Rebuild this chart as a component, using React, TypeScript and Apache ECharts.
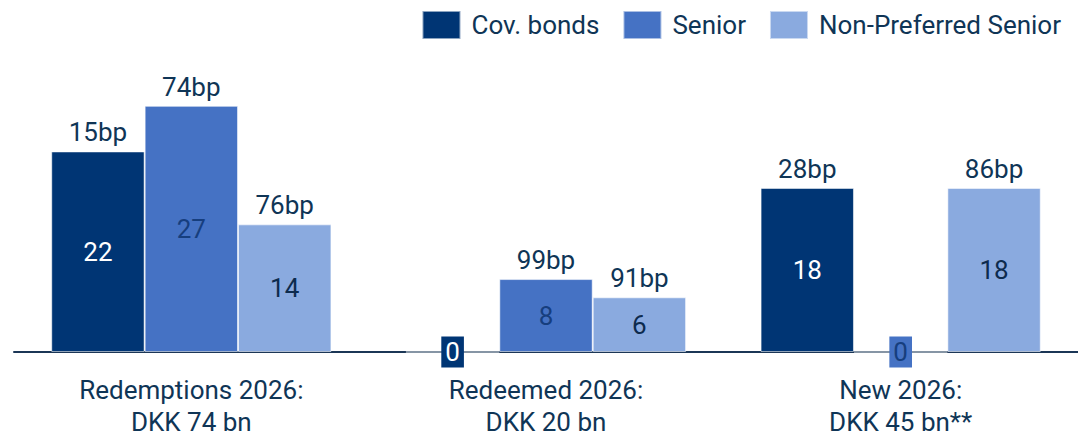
import React, { useEffect, useRef } from "react";
import * as echarts from "echarts";

const categories = ["Redemptions 2026:\nDKK 74 bn", "Redeemed 2026:\nDKK 20 bn", "New 2026:\nDKK 45 bn**"];
const seriesNames = ["Cov. bonds", "Senior", "Non-Preferred Senior"];
const covValues = [22, 0, 18];
const seniorValues = [27, 8, 0];
const npsValues = [14, 6, 18];
const covBp = ["15bp", null, "28bp"];
const seniorBp = ["74bp", "99bp", null];
const npsBp = ["76bp", "91bp", "86bp"];

const colors = ["#003574", "#4572c4", "#8aaadf"];
const insideColors = ["#ffffff", "#163e7e", "#0d2b4e"];
const zeroTextColors = ["#ffffff", "#163e7e", "#0d2b4e"];
const textColor = "#0f3556";
const FONT = "Roboto";

export default function App() {
  const ref = useRef<HTMLDivElement>(null);
  useEffect(() => {
    if (!ref.current) return;
    const chart = echarts.init(ref.current, undefined, { renderer: "svg" });
    const valueSets = [covValues, seniorValues, npsValues];
    const bpSets = [covBp, seniorBp, npsBp];
    const stacks = ["cov", "senior", "nps"];
    const series: any[] = [];
    valueSets.forEach((vals, i) => {
      series.push({
        name: seriesNames[i],
        type: "bar",
        stack: stacks[i],
        barGap: "0%",
        barCategoryGap: "21%",
        itemStyle: { color: colors[i], borderColor: "rgba(255,255,255,0.55)", borderWidth: 1 },
        label: {
          show: true,
          position: "inside",
          fontFamily: FONT,
          fontSize: 26,
          color: insideColors[i],
        },
        data: vals.map((v) =>
          v === 0
            ? {
                value: 0,
                label: {
                  backgroundColor: colors[i],
                  color: zeroTextColors[i],
                  padding: [4, 4, 3, 4],
                  lineHeight: 24,
                },
              }
            : v
        ),
      });
      series.push({
        name: seriesNames[i] + " bp",
        type: "bar",
        stack: stacks[i],
        barGap: "0%",
        barCategoryGap: "21%",
        itemStyle: { color: colors[i] },
        label: {
          show: true,
          position: "top",
          distance: 6,
          fontFamily: FONT,
          fontSize: 26,
          color: textColor,
          formatter: (p: any) => bpSets[i][p.dataIndex] ?? "",
        },
        data: bpSets[i].map((b) => (b === null ? null : 0)),
      });
    });
    chart.setOption({
      animation: false,
      legend: {
        data: seriesNames,
        top: 5,
        right: 12,
        itemWidth: 38,
        itemHeight: 28,
        itemGap: 23,
        icon: "rect",
        textStyle: { fontFamily: FONT, fontSize: 26, color: textColor, padding: [0, 0, 0, 6] },
      },
      grid: { left: 14, right: 0, top: 78.5, bottom: 84.5, containLabel: false },
      xAxis: {
        type: "category",
        data: categories,
        axisLine: { lineStyle: { color: "#1b3656", width: 2 } },
        axisTick: { show: false },
        axisLabel: {
          fontFamily: FONT,
          fontSize: 26,
          color: textColor,
          lineHeight: 32,
          margin: 22,
        },
      },
      yAxis: { type: "value", min: 0, max: 30, show: false, splitLine: { show: false } },
      series,
    });
    return () => chart.dispose();
  }, []);
  return <div ref={ref} style={{ width: 1078, height: 438, position: "absolute", left: 0, top: 0 }} />;
}
